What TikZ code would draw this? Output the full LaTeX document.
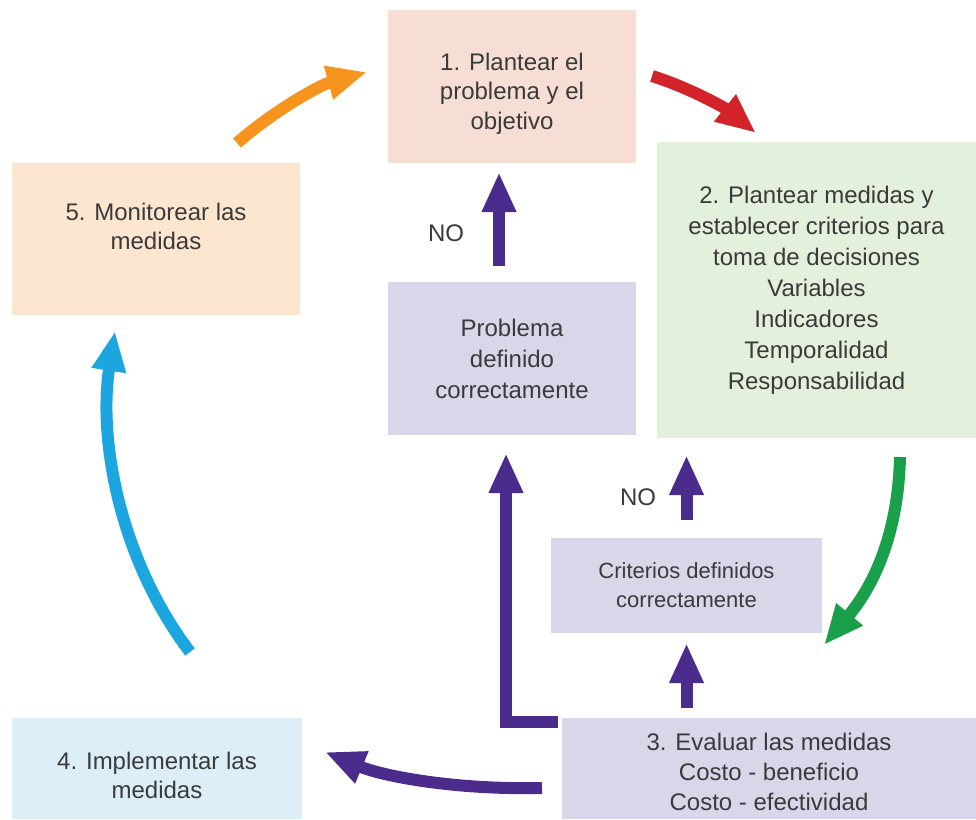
\documentclass[tikz,border=0pt]{standalone}
\usepackage{fontspec}
\setmainfont{Liberation Sans}
\usetikzlibrary{arrows.meta,calc}

\definecolor{txtgray}{HTML}{3A3A3A}
\definecolor{pinkbox}{HTML}{F6DED4}
\definecolor{greenbox}{HTML}{E3F1DC}
\definecolor{peachbox}{HTML}{FCE6CF}
\definecolor{lilacbox}{HTML}{D9D6EA}
\definecolor{bluebox}{HTML}{DCEFF9}
\definecolor{purplearr}{HTML}{4B2C8C}
\definecolor{orangearr}{HTML}{F7941E}
\definecolor{redarr}{HTML}{D2232A}
\definecolor{greenarr}{HTML}{1AA04A}
\definecolor{bluearr}{HTML}{1CA6DF}

\begin{document}
\begin{tikzpicture}[
  x=1pt,y=-1pt,
  font=\fontsize{24}{31}\selectfont,
  box/.style={inner sep=0pt, align=center, text=txtgray},
  boxtext/.style={inner sep=0pt, align=center, text=txtgray},
  flow/.style={line width=12pt, -{Triangle[length=40pt,width=32pt]}},
  uparrow/.style={flow, purplearr, line join=miter},
  nolabel/.style={text=txtgray, inner sep=0pt}
]
\useasboundingbox (0,0) rectangle (976,819);

% ----------------------------- Boxes -----------------------------
\node[box, fill=pinkbox, minimum width=248pt, minimum height=153pt,
  label={[boxtext, yshift=-7pt, font=\fontsize{24}{29.5}\selectfont]center:1. Plantear el\\problema y el\\objetivo}] (p1) at (512,86.5) {};
\node[box, fill=greenbox, minimum width=319pt, minimum height=296pt] (p2) at (816.5,290)
  {2. Plantear medidas y\\establecer criterios para\\toma de decisiones\\Variables\\Indicadores\\Temporalidad\\Responsabilidad};
\node[box, fill=peachbox, minimum width=288pt, minimum height=152pt,
  label={[boxtext, yshift=13pt, font=\fontsize{24}{29}\selectfont]center:5. Monitorear las\\medidas}] (p5) at (156,239) {};
\node[box, fill=lilacbox, minimum width=248pt, minimum height=153pt] (pd) at (512,358.5)
  {Problema\\definido\\correctamente};
\node[box, fill=lilacbox, minimum width=271pt, minimum height=95pt,
  font=\fontsize{22}{29}\selectfont] (cd) at (686.5,585.5)
  {Criterios definidos\\correctamente};
\node[box, fill=lilacbox, minimum width=414pt, minimum height=101pt,
  label={[boxtext, yshift=-3pt, font=\fontsize{24}{30}\selectfont]center:3. Evaluar las medidas\\Costo - beneficio\\Costo - efectividad}] (p3) at (769,768.5) {};
\node[box, fill=bluebox, minimum width=290pt, minimum height=101pt,
  label={[boxtext, yshift=-7pt, font=\fontsize{24}{29}\selectfont]center:4. Implementar las\\medidas}] (p4) at (157,768.5) {};

\node[nolabel] (no1) at (446,233) {NO};
\node[nolabel] (no2) at (638,497) {NO};

% ----------------------------- Cycle arrows -----------------------------
\coordinate (o1) at (237,143);
\coordinate (o2) at (367,72);
\draw[flow, orangearr] (o1) .. controls (275,110) and (320,85) .. (o2);

\coordinate (r1) at (652,76);
\coordinate (r2) at (756,133);
\draw[flow, redarr] (r1) .. controls (690,88) and (725,108) .. (r2);

\coordinate (g1) at (900,457);
\coordinate (g2) at (824,645);
\draw[flow, greenarr] (g1) .. controls (898,540) and (870,590) .. (g2);

\coordinate (v1) at (542,788);
\coordinate (v2) at (325,752);
\draw[flow, purplearr] (v1) .. controls (450,790) and (380,775) .. (v2);

\coordinate (b1) at (190,652);
\coordinate (b2) at (115,331);
\draw[flow, bluearr] (b1) .. controls (120,560) and (98,440) .. (b2);

% ----------------------------- Check arrows -----------------------------
\draw[uparrow] ($(pd.north)+(-13,-16)$) -- ($(p1.south)+(-13,9)$);
\draw[uparrow, shorten <=18pt, shorten >=17pt] (cd.north) -- (cd.north |- p2.south);
\draw[uparrow, shorten <=10pt, shorten >=10pt] (p3.north -| cd.south) -- (cd.south);
\draw[uparrow] ($(p3.north west)+(-4,4)$) -| ($(pd.south)+(-6,18)$);

\end{tikzpicture}
\end{document}
